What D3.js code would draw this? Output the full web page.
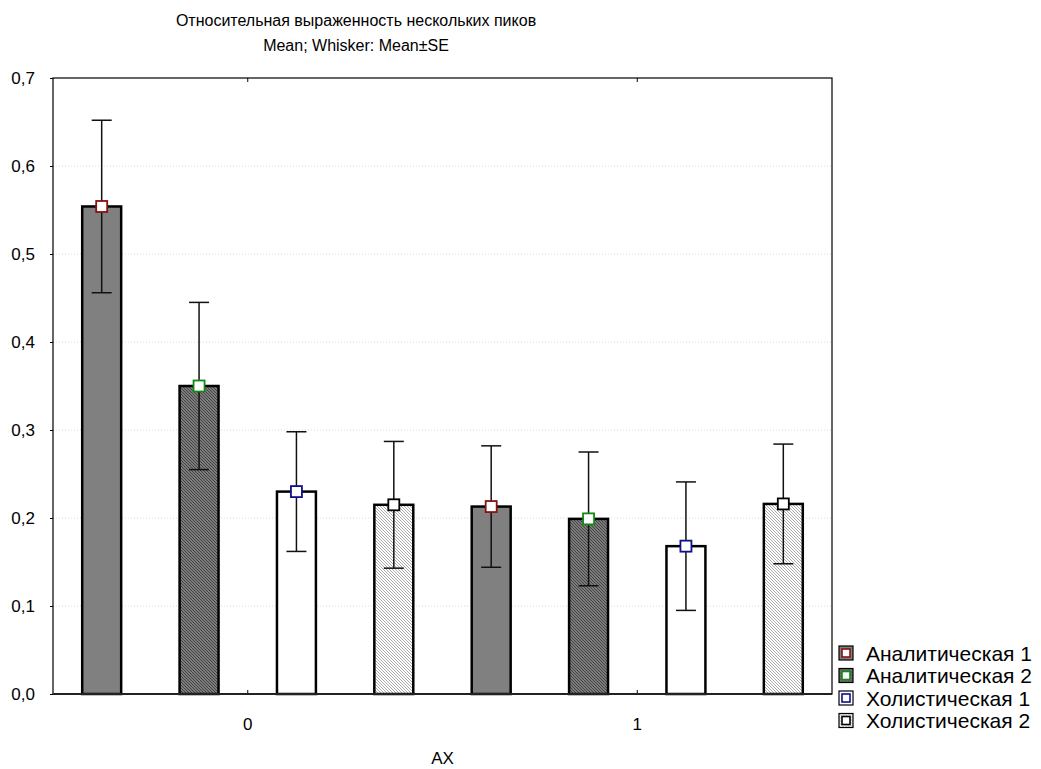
<!DOCTYPE html>
<html>
<head>
<meta charset="utf-8">
<script src="https://cdn.jsdelivr.net/npm/d3@7"></script>
<style>
  body { margin: 0; background: #fff; }
  svg text { font-family: Arial, "Liberation Sans", sans-serif; fill: #000; }
</style>
</head>
<body>
<svg id="chart" width="1041" height="769"></svg>
<script>
// values
const groups = ["0", "1"];
const seriesNames = ["Аналитическая 1", "Аналитическая 2", "Холистическая 1", "Холистическая 2"];
const meanAX0 = [0.554, 0.350, 0.230, 0.215];
const meanAX1 = [0.213, 0.199, 0.168, 0.216];
const seAX0 = [0.098, 0.095, 0.068, 0.072];
const seAX1 = [0.069, 0.076, 0.073, 0.068];
const yTicks = [0, 0.1, 0.2, 0.3, 0.4, 0.5, 0.6, 0.7];

const W = 1041, H = 769;
const M = { top: 78, right: 209, bottom: 75, left: 53 };
const x0 = M.left, x1 = W - M.right, yTop = M.top, yBot = H - M.bottom;

// series look: fill, marker border
const looks = [
  { fill: "#808080", mark: "#8b1010" },
  { fill: "url(#hatchDark)", mark: "#108a10" },
  { fill: "#ffffff", mark: "#10108a" },
  { fill: "url(#hatchLight)", mark: "#000000" },
];

const svg = d3.select("#chart");
const defs = svg.append("defs");
function hatch(id, bg, line) {
  const p = defs.append("pattern").attr("id", id)
    .attr("patternUnits", "userSpaceOnUse").attr("width", 3).attr("height", 3);
  p.append("rect").attr("width", 3).attr("height", 3).attr("fill", bg);
  p.append("path").attr("d", "M-1,-1 L4,4 M-1,2 L1,4 M2,-1 L4,1")
    .attr("stroke", line).attr("stroke-width", 0.9);
}
hatch("hatchDark", "#7c7c7c", "#3c3c3c");
hatch("hatchLight", "#ffffff", "#a0a0a0");

const x = d3.scaleBand().domain(groups).range([x0, x1]);
const xs = d3.scaleBand().domain(d3.range(seriesNames.length))
  .range([0, x.bandwidth()]).paddingInner(0.6).paddingOuter(0.3);
const y = d3.scaleLinear().domain([0, 0.7]).range([yBot, yTop]);
const fmt = v => d3.format(".1f")(v).replace(".", ",");

// titles
svg.append("text").attr("x", 356).attr("y", 26).attr("text-anchor", "middle")
  .style("font-size", "16px").text("Относительная выраженность нескольких пиков");
svg.append("text").attr("x", 356).attr("y", 51).attr("text-anchor", "middle")
  .style("font-size", "16px").text("Mean; Whisker: Mean±SE");

// grid
svg.append("g").selectAll("line").data(yTicks.slice(1, -1)).enter().append("line")
  .attr("x1", x0).attr("x2", x1).attr("y1", d => y(d)).attr("y2", d => y(d))
  .attr("stroke", "#d8d8d8").attr("stroke-dasharray", "1,2");

// y axis
const yAxis = svg.append("g").attr("transform", `translate(${x0},0)`)
  .call(d3.axisLeft(y).tickValues(yTicks).tickFormat(fmt).tickSize(3).tickPadding(15));
yAxis.select(".domain").remove();
yAxis.selectAll("text").style("font-size", "17px").attr("fill", "#000");

// x axis (ticks inward at bottom and top)
const xAxis = svg.append("g").attr("transform", `translate(0,${yBot})`)
  .call(d3.axisBottom(x).tickSize(-4).tickPadding(24));
xAxis.select(".domain").remove();
xAxis.selectAll("text").style("font-size", "17px").attr("fill", "#000");
svg.append("g").attr("transform", `translate(0,${yTop})`)
  .call(d3.axisTop(x).tickSize(-4).tickFormat(""))
  .select(".domain").remove();

svg.append("text").attr("x", x(groups[0]) + x.bandwidth()).attr("y", 764)
  .attr("text-anchor", "middle").style("font-size", "17px").text("AX");

// bars
const rows = [];
groups.forEach((g, gi) => {
  const means = gi === 0 ? meanAX0 : meanAX1;
  const ses = gi === 0 ? seAX0 : seAX1;
  means.forEach((m, si) => rows.push({ g, si, m, se: ses[si] }));
});
const cx = d => x(d.g) + xs(d.si) + xs.bandwidth() / 2;

svg.append("g").selectAll("rect").data(rows).enter().append("rect")
  .attr("x", d => x(d.g) + xs(d.si)).attr("y", d => y(d.m))
  .attr("width", xs.bandwidth()).attr("height", d => yBot - y(d.m))
  .attr("fill", d => looks[d.si].fill)
  .attr("stroke", "#000").attr("stroke-width", 2.5);

// frame
svg.append("rect").attr("x", x0).attr("y", yTop).attr("width", x1 - x0).attr("height", yBot - yTop)
  .attr("fill", "none").attr("stroke", "#000").attr("stroke-width", 1.2);
svg.append("line").attr("x1", x0).attr("x2", x1).attr("y1", yBot).attr("y2", yBot)
  .attr("stroke", "#222").attr("stroke-width", 2);

// whiskers
const wk = svg.append("g").attr("stroke", "#111").attr("stroke-width", 1.5);
rows.forEach(d => {
  const c = cx(d);
  wk.append("line").attr("x1", c).attr("x2", c).attr("y1", y(d.m + d.se)).attr("y2", y(d.m - d.se));
  [d.m + d.se, d.m - d.se].forEach(v => {
    wk.append("line").attr("x1", c - 10).attr("x2", c + 10).attr("y1", y(v)).attr("y2", y(v));
  });
});

// mean markers
svg.append("g").selectAll("rect").data(rows).enter().append("rect")
  .attr("x", d => cx(d) - 5.5).attr("y", d => y(d.m) - 5.5)
  .attr("width", 11).attr("height", 11)
  .attr("fill", "#fff").attr("stroke", d => looks[d.si].mark).attr("stroke-width", 1.8);

// legend
const lg = svg.append("g").attr("transform", "translate(839,646)");
seriesNames.forEach((name, i) => {
  const row = lg.append("g").attr("transform", `translate(0,${i * 22.5})`);
  row.append("rect").attr("x", 0).attr("y", 0).attr("width", 14).attr("height", 14)
    .attr("fill", looks[i].fill).attr("stroke", "#000").attr("stroke-width", 1.2);
  row.append("rect").attr("x", 3).attr("y", 3).attr("width", 8).attr("height", 8)
    .attr("fill", "#fff").attr("stroke", looks[i].mark).attr("stroke-width", 1.6);
  row.append("text").attr("x", 27).attr("y", 14.5).style("font-size", "21px").text(name);
});
</script>
</body>
</html>
